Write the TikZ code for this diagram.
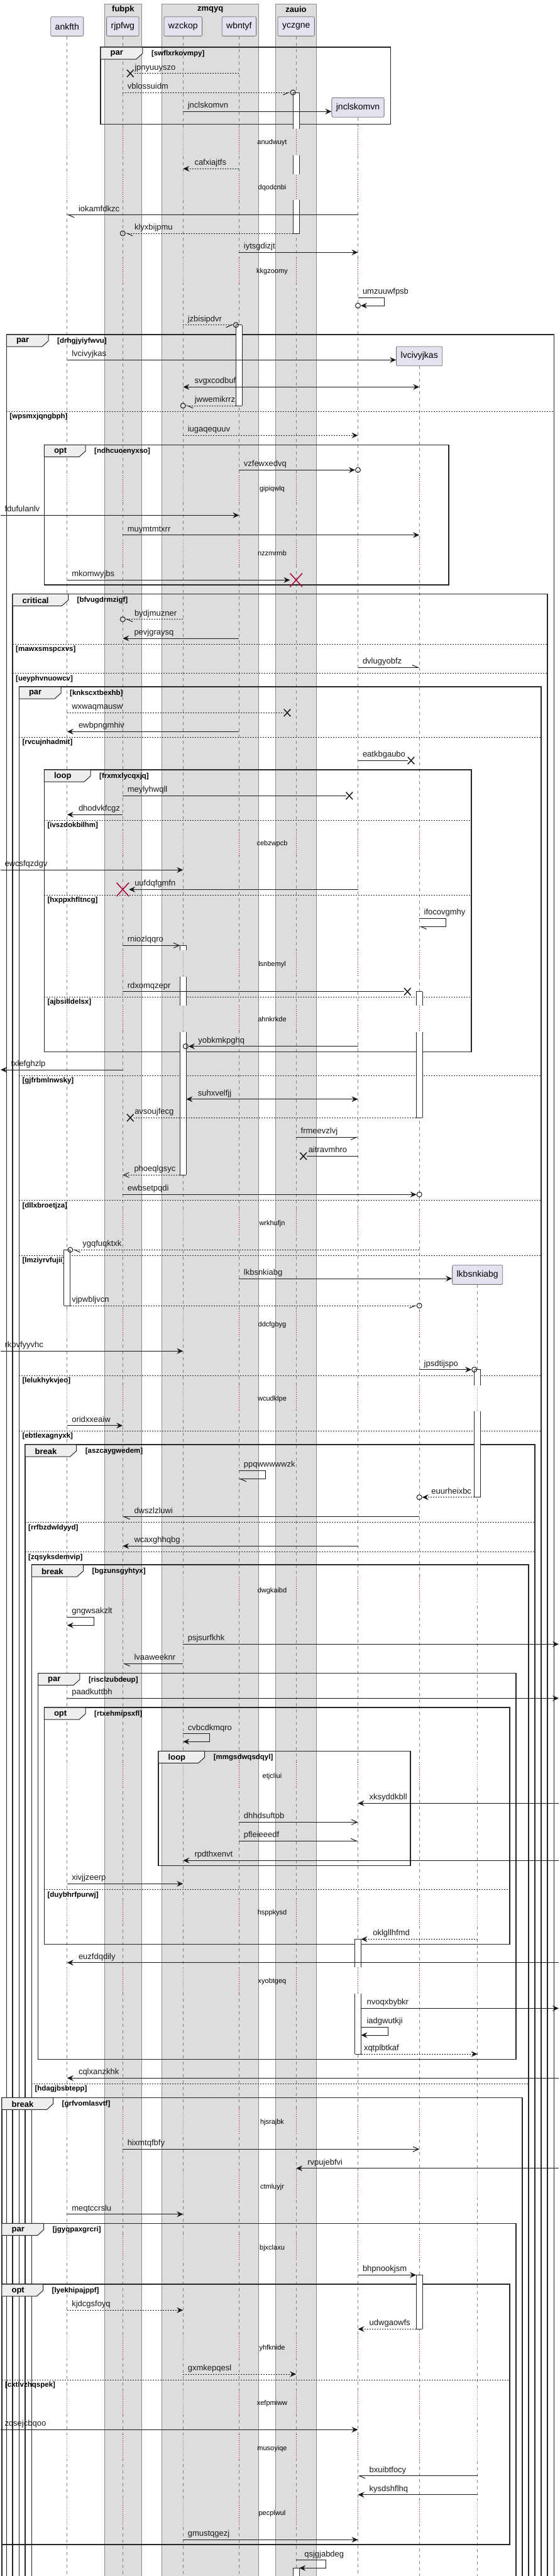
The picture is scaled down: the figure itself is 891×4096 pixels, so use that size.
\documentclass[tikz,border=0pt]{standalone}
\usepackage{fontspec}
\setmainfont{Liberation Sans}
\usetikzlibrary{arrows.meta,calc,shapes.misc}
\definecolor{partfill}{HTML}{E2E2F0}
\definecolor{boxfill}{HTML}{DDDDDD}
\definecolor{tabfill}{HTML}{EEEEEE}
\definecolor{crimson}{HTML}{A80036}
\newcommand\delays{226.7,298.3,431.7,777.7,880,1341.7,1533.3,1621,1945.7,2106.7,2224.3,2529.3,2824.3,3041.7,3150.7,3375,3477.3,3575,3733.3,3821.7,3893.3,3996.7}
\tikzset{
  grpbox/.style={draw=black!45, fill=boxfill, line width=0.8pt},
  boxtitle/.style={font=\fontsize{13}{15}\selectfont\bfseries, inner sep=0pt},
  part/.style={draw=black!55, fill=partfill, rounded corners=2pt, line width=0.8pt, minimum height=30.7pt, inner xsep=7pt, inner ysep=0pt, font=\fontsize{14}{16}\selectfont},
  life/.style={black!50, line width=0.8pt, dash pattern=on 5pt off 5pt},
  dly/.style={line width=0.9pt, dash pattern=on 1pt off 2pt},
  frm/.style={draw=black!85, line width=1.5pt},
  tabsh/.style={draw=black!85, fill=tabfill, line width=1pt},
  kindlbl/.style={font=\fontsize{13}{15}\selectfont\bfseries, inner sep=0pt},
  condlbl/.style={font=\fontsize{11.5}{13}\selectfont\bfseries, inner sep=0pt},
  elsesep/.style={black!85, line width=1pt, dash pattern=on 2pt off 2pt},
  actb/.style={black!85, line width=1pt},
  msg/.style={black!90, line width=1pt},
  dmsg/.style={msg, dash pattern=on 2pt off 2pt},
  fh/.style={-{Stealth[length=10pt,width=9pt,inset=3.5pt]}},
  bh/.style={{Stealth[length=10pt,width=9pt,inset=3.5pt]}-{Stealth[length=10pt,width=9pt,inset=3.5pt]}},
  oh/.style={-{Straight Barb[length=9pt,width=8pt]}},
  hl/.style={-{Straight Barb[harpoon,length=9pt,width=8pt]}},
  hr/.style={-{Straight Barb[harpoon,swap,length=9pt,width=8pt]}},
  ltr/.style={pos=0, anchor=base west, inner sep=0pt, xshift=#1, yshift=5.5pt, font=\fontsize{13}{15}\selectfont},
  ltr/.default=7pt,
  rtl/.style={pos=1, anchor=base west, inner sep=0pt, xshift=#1, yshift=5.5pt, font=\fontsize{13}{15}\selectfont},
  rtl/.default=17.7pt,
  circ/.style={circle, draw=black!90, line width=1pt, minimum size=8pt, inner sep=0pt},
  lost/.style={cross out, draw=black!90, line width=1.5pt, minimum width=9pt, minimum height=10pt, inner sep=0pt},
  kill/.style={cross out, draw=crimson, line width=1.5pt, minimum width=18pt, minimum height=20pt, inner sep=0pt},
  dlytext/.style={font=\fontsize{11}{13}\selectfont, inner sep=0pt},
}
\newcommand\lifeln[3]{%
  \begin{scope}
    \clip ($(#1.south)+(-8,0)$) rectangle ($(#1.south |- 0,4110)+(8,0)$);
    \draw[life] (#1.south) -- (#1.south |- 0,4110);
    \foreach \dy in \delays {
      \draw[#2, line width=4pt] (#1 |- 0,\dy-22) -- (#1 |- 0,\dy+18);
      \draw[dly, #3] (#1 |- 0,\dy-22) -- (#1 |- 0,\dy+18);
    }
  \end{scope}}
\newcommand\grp[7]{%
  \draw[frm] (#1,#2) rectangle (#3,#4);
  \draw[tabsh] (#1,#2) -- (#5,#2) -- (#5,#2+10) -- (#5-10,#2+19) -- (#1,#2+19) -- cycle;
  \node[kindlbl, anchor=west] (k-#7) at (#1+15.5,#2+10.5) {#6};
  \node[condlbl, anchor=west] (c-#7) at (#5+14,#2+10.5) {[#7]};}
\newcommand\els[4]{%
  \draw[elsesep] (#1,#3) -- (#2,#3);
  \node[condlbl, anchor=west] (c-#4) at (#1+5,#3+8.7) {[#4]};}
\newcommand\barseg[3]{%
  \fill[white] ($(#1 |- 0,#2)+(-5,0)$) rectangle ($(#1 |- 0,#3)+(5,0)$);
  \draw[actb] ($(#1 |- 0,#2)+(-5,0)$) -- ($(#1 |- 0,#3)+(-5,0)$);
  \draw[actb] ($(#1 |- 0,#2)+(5,0)$) -- ($(#1 |- 0,#3)+(5,0)$);}
\newcommand\barend[2]{\draw[actb] ($(#1 |- 0,#2)+(-5,0)$) -- ($(#1 |- 0,#2)+(5,0)$);}

\begin{document}
\begin{tikzpicture}[x=1pt,y=-1pt]
\useasboundingbox (0,0) rectangle (891,4096);
\clip (0,0) rectangle (891,4096);
\coordinate (ledge) at (1,0);
\coordinate (redge) at (889,0);

\draw[grpbox] (166.2,6) rectangle (225.6,4110);
\node[boxtitle] (t-fubpk) at (195.9,15) {fubpk};
\draw[grpbox] (257.6,6) rectangle (411.8,4110);
\node[boxtitle] (t-zmqyq) at (334.7,15) {zmqyq};
\draw[grpbox] (438.1,6) rectangle (503.8,4110);
\node[boxtitle] (t-zauio) at (471,15) {zauio};

\node[part] (ankfth) at (106.8,42) {ankfth};
\node[part] (rjpfwg) at (195.3,42) {rjpfwg};
\node[part] (wzckop) at (291.3,42) {wzckop};
\node[part] (wbntyf) at (380.4,42) {wbntyf};
\node[part] (yczgne) at (471.2,42) {yczgne};
\node[part] (jnclskomvn) at (569.5,170.8) {jnclskomvn};
\node[part] (lvcivyjkas) at (667.2,566.3) {lvcivyjkas};
\node[part] (lkbsnkiabg) at (759.7,2027) {lkbsnkiabg};

\lifeln{ankfth}{white}{black!50}
\lifeln{rjpfwg}{boxfill}{crimson}
\lifeln{wzckop}{boxfill}{black!50}
\lifeln{wbntyf}{boxfill}{crimson}
\lifeln{yczgne}{boxfill}{crimson}
\lifeln{jnclskomvn}{white}{crimson}
\lifeln{lvcivyjkas}{white}{crimson}
\lifeln{lkbsnkiabg}{white}{black!50}

\grp{160}{75}{621.5}{197.7}{226.8}{par}{swflxrkovmpy}
\grp{10.3}{532}{881.4}{4110}{77}{par}{drhgjyiyfwvu}
\els{10.3}{881.4}{654}{wpsmxjqngbph}
\grp{70.3}{707.3}{714}{930}{136}{opt}{ndhcuoenyxso}
\grp{20}{944.3}{871.1}{4110}{108.5}{critical}{bfvugdrmzigf}
\els{20}{871.1}{1024.3}{mawxsmspcxvs}
\els{20}{871.1}{1070.7}{ueyphvnuowcv}
\grp{30.3}{1092}{860.8}{4110}{97}{par}{knkscxtbexhb}
\els{30.3}{860.8}{1172.3}{rvcujnhadmit}
\grp{70.3}{1224}{750}{1672.3}{144}{loop}{frxmxlycqxjq}
\els{70.3}{750}{1304.3}{ivszdokbilhm}
\els{70.3}{750}{1423.3}{hxppxhfltncg}
\els{70.3}{750}{1585.3}{ajbsilldelsx}
\els{30.3}{860.8}{1710}{gjfrbmlnwsky}
\els{30.3}{860.8}{1908.7}{dllxbroetjza}
\els{30.3}{860.8}{1996}{lmziyrvfujii}
\els{30.3}{860.8}{2187}{lelukhykvjeo}
\els{30.3}{860.8}{2275.3}{ebtlexagnyxk}
\grp{40}{2297}{851.1}{4110}{121.7}{break}{aszcaygwedem}
\els{40}{851.1}{2420.7}{rrfbzdwldyyd}
\els{40}{851.1}{2467.3}{zqsyksdemvip}
\grp{50.3}{2488}{840.8}{4110}{132.5}{break}{bgzunsgyhtyx}
\grp{60.5}{2660.7}{820.8}{3274.3}{126.8}{par}{risclzubdeup}
\grp{70.3}{2715}{811.1}{3091.7}{136}{opt}{rtxehmipsxfl}
\grp{252}{2784.3}{653}{2966.7}{325.6}{loop}{mmgsdwqsdqyl}
\els{70.3}{811.1}{3004.3}{duybhrfpurwj}
\els{50.3}{840.8}{3313.3}{hdagjbsbtepp}
\grp{2.9}{3335.3}{831.1}{4110}{84.5}{break}{grfvomlasvtf}
\grp{2.9}{3535.3}{820.8}{4110}{69.7}{par}{jgyqpaxgrcri}
\grp{2.9}{3632}{811.1}{4045.7}{68.5}{opt}{lyekhipajppf}
\els{2.9}{811.1}{3784}{cxtlvzhqspek}

\barseg{yczgne}{147}{204.7} \barend{yczgne}{147}
\barseg{yczgne}{246.7}{276.7}
\barseg{yczgne}{318.3}{371.7} \barend{yczgne}{371.7}
\barseg{wbntyf}{516.7}{645} \barend{wbntyf}{516.7} \barend{wbntyf}{645}
\barseg{wzckop}{1503.3}{1511.3} \barend{wzckop}{1503.3}
\barseg{wzckop}{1553.3}{1599.3}
\barseg{wzckop}{1641}{1868.3} \barend{wzckop}{1868.3}
\barseg{lvcivyjkas}{1576.7}{1599.3} \barend{lvcivyjkas}{1576.7}
\barseg{lvcivyjkas}{1641}{1777.3} \barend{lvcivyjkas}{1777.3}
\barseg{ankfth}{1987.3}{2076} \barend{ankfth}{1987.3} \barend{ankfth}{2076}
\barseg{lkbsnkiabg}{2177.7}{2202.7} \barend{lkbsnkiabg}{2177.7}
\barseg{lkbsnkiabg}{2244}{2380.7} \barend{lkbsnkiabg}{2380.7}
\barseg{jnclskomvn}{3083.3}{3128.3} \barend{jnclskomvn}{3083.3}
\barseg{jnclskomvn}{3170}{3266} \barend{jnclskomvn}{3266}
\barseg{lvcivyjkas}{3617.3}{3703.3} \barend{lvcivyjkas}{3617.3} \barend{lvcivyjkas}{3703.3}
\barseg{yczgne}{4083.3}{4110} \barend{yczgne}{4083.3}

\node[lost] (x1) at (207.3,116.7) {};
\draw[dmsg] (wbntyf |- 0,116.7) -- (x1) node[rtl=1.2pt] {jpnyuuyszo};
\node[circ] (o1) at ($(yczgne |- 0,147)+(-5,0)$) {};
\draw[dmsg, hr] (rjpfwg |- 0,147) -- (o1) node[ltr] {vblossuidm};
\draw[msg, fh] (wzckop |- 0,177.3) -- (jnclskomvn.west |- 0,177.3) node[ltr] {jnclskomvn};
\draw[dmsg, fh] (wbntyf |- 0,268.3) -- (wzckop |- 0,268.3) node[rtl] {cafxiajtfs};
\draw[msg, hl] (jnclskomvn |- 0,341.7) -- (ankfth |- 0,341.7) node[rtl] {iokamfdkzc};
\node[circ] (o2) at (rjpfwg |- 0,371) {};
\draw[dmsg, hl] ($(yczgne |- 0,371)+(-5,0)$) -- (o2) node[rtl=13.7pt] {klyxbijpmu};
\draw[msg, fh] (wbntyf |- 0,401.3) -- (jnclskomvn |- 0,401.3) node[ltr] {iytsgdizjt};
\node[circ] (o3) at (jnclskomvn |- 0,486) {};
\draw[msg, fh] (jnclskomvn |- 0,473.3) -- ++(42.3,0) node[ltr] {umzuuwfpsb} -- ++(0,12.7) -- (o3);
\node[circ] (o4) at ($(wbntyf |- 0,516.7)+(-5,0)$) {};
\draw[dmsg, hr] (wzckop |- 0,516.7) -- (o4) node[ltr] {jzbisipdvr};
\draw[msg, fh] (ankfth |- 0,572.3) -- (lvcivyjkas.west |- 0,572.3) node[ltr] {lvcivyjkas};
\draw[msg, bh] (wzckop |- 0,615.3) -- (lvcivyjkas |- 0,615.3) node[ltr=17.7pt] {svgxcodbuf};
\node[circ] (o5) at (wzckop |- 0,645) {};
\draw[dmsg, hl] ($(wbntyf |- 0,645)+(-5,0)$) -- (o5) node[rtl=13.5pt] {jwwemikrrz};
\draw[dmsg, fh] (wzckop |- 0,692.3) -- (jnclskomvn |- 0,692.3) node[ltr] {iugaqequuv};
\node[circ] (o6) at (jnclskomvn |- 0,747.3) {};
\draw[msg, fh] (wbntyf |- 0,747.3) -- (o6) node[ltr] {vzfewxedvq};
\draw[msg, fh] (ledge |- 0,819.3) -- (wbntyf |- 0,819.3) node[ltr=6pt] {fdufulanlv};
\draw[msg, fh] (rjpfwg |- 0,850.7) -- (lvcivyjkas |- 0,850.7) node[ltr] {muymtmtxrr};
\node[kill] (k1) at (yczgne |- 0,922.3) {};
\draw[msg, fh] (ankfth |- 0,922.3) -- (k1) node[ltr] {mkomwyjbs};
\node[circ] (o7) at (rjpfwg |- 0,984.7) {};
\draw[dmsg, hl] (wzckop |- 0,984.7) -- (o7) node[rtl=13.7pt] {bydjmuzner};
\draw[msg, fh] (wbntyf |- 0,1015) -- (rjpfwg |- 0,1015) node[rtl] {pevjgraysq};
\draw[msg, hl] (jnclskomvn |- 0,1061.3) -- (lvcivyjkas |- 0,1061.3) node[ltr] {dvlugyobfz};
\node[lost] (x2) at (457,1133.3) {};
\draw[dmsg] (ankfth |- 0,1133.3) -- (x2) node[ltr] {wxwaqmausw};
\draw[msg, fh] (wbntyf |- 0,1163.3) -- (ankfth |- 0,1163.3) node[rtl] {ewbpngmhiv};
\node[lost] (x3) at (654,1209.3) {};
\draw[msg] (jnclskomvn |- 0,1209.3) -- (x3) node[ltr] {eatkbgaubo};
\node[lost] (x4) at (555.8,1265.3) {};
\draw[msg] (rjpfwg |- 0,1265.3) -- (x4) node[ltr] {meylyhwqll};
\draw[msg, fh] (rjpfwg |- 0,1295.3) -- (ankfth |- 0,1295.3) node[rtl] {dhodvkfcgz};
\draw[msg, fh] (ledge |- 0,1383.3) -- (wzckop |- 0,1383.3) node[ltr=6pt] {ewcsfqzdgv};
\node[kill] (k2) at (rjpfwg |- 0,1414.3) {};
\draw[msg, fh] (jnclskomvn |- 0,1414.3) -- (k2) node[rtl=8.7pt] {uufdqfgmfn};
\draw[msg, hl] (lvcivyjkas |- 0,1460) -- ++(41.8,0) node[ltr] {ifocovgmhy} -- ++(0,13.3) -- (lvcivyjkas |- 0,1473.3);
\draw[msg, oh] (rjpfwg |- 0,1503.3) -- ($(wzckop |- 0,1503.3)+(-5,0)$) node[ltr] {rniozlqqro};
\node[lost] (x5) at (648.3,1576.7) {};
\draw[msg] (rjpfwg |- 0,1576.7) -- (x5) node[ltr] {rdxomqzepr};
\node[circ] (o8) at ($(wzckop |- 0,1663.7)+(4,0)$) {};
\draw[msg, fh] (jnclskomvn |- 0,1663.7) -- (o8) node[rtl=15pt] {yobkmkpghq};
\draw[msg, fh] (rjpfwg |- 0,1701) -- (ledge |- 0,1701) node[rtl=16pt] {txlefghzlp};
\draw[msg, bh] ($(wzckop |- 0,1747.7)+(5,0)$) -- (jnclskomvn |- 0,1747.7) node[ltr=18pt] {suhxvelfjj};
\node[lost] (x6) at (207.3,1777.3) {};
\draw[dmsg] ($(lvcivyjkas |- 0,1777.3)+(-5,0)$) -- (x6) node[rtl=1.2pt] {avsoujfecg};
\draw[msg, hr] (yczgne |- 0,1808.3) -- (jnclskomvn |- 0,1808.3) node[ltr] {frmeevzlvj};
\node[lost] (x7) at (482.7,1838.3) {};
\draw[msg] (jnclskomvn |- 0,1838.3) -- (x7) node[rtl=2.3pt] {aitravmhro};
\draw[dmsg, oh] ($(wzckop |- 0,1868.3)+(-5,0)$) -- (rjpfwg |- 0,1868.3) node[rtl] {phoeqlgsyc};
\node[circ] (o9) at (lvcivyjkas |- 0,1899.3) {};
\draw[msg, fh] (rjpfwg |- 0,1899.3) -- (o9) node[ltr] {ewbsetpqdi};
\node[circ] (o10) at ($(ankfth |- 0,1987.3)+(5,0)$) {};
\draw[dmsg, hl] (lvcivyjkas |- 0,1987.3) -- (o10) node[rtl=14.5pt] {ygqfuqktxk};
\draw[msg, fh] (wbntyf |- 0,2033) -- (lkbsnkiabg.west |- 0,2033) node[ltr] {lkbsnkiabg};
\node[circ] (o11) at (lvcivyjkas |- 0,2076) {};
\draw[dmsg, hr] ($(ankfth |- 0,2076)+(5,0)$) -- (o11) node[ltr=2pt] {vjpwbljvcn};
\draw[msg, fh] (ledge |- 0,2148.3) -- (wzckop |- 0,2148.3) node[ltr=6pt] {rkpvfyyvhc};
\node[circ] (o12) at ($(lkbsnkiabg |- 0,2177.7)+(-5,0)$) {};
\draw[msg, fh] (lvcivyjkas |- 0,2177.7) -- (o12) node[ltr] {jpsdtijspo};
\draw[msg, fh] (ankfth |- 0,2266.7) -- (rjpfwg |- 0,2266.7) node[ltr] {oridxxeaiw};
\draw[msg, hl] (wbntyf |- 0,2338.3) -- ++(42.3,0) node[ltr] {ppqwwwwwzk} -- ++(0,13.4) -- (wbntyf |- 0,2351.7);
\node[circ] (o13) at (lvcivyjkas |- 0,2380.7) {};
\draw[dmsg, fh] ($(lkbsnkiabg |- 0,2380.7)+(-5,0)$) -- (o13) node[rtl=14.2pt] {euurheixbc};
\draw[msg, hl] (lvcivyjkas |- 0,2411.7) -- (rjpfwg |- 0,2411.7) node[rtl] {dwszlzluwi};
\draw[msg, fh] (jnclskomvn |- 0,2458.3) -- (rjpfwg |- 0,2458.3) node[rtl] {wcaxghhqbg};
\draw[msg, fh] (ankfth |- 0,2571.3) -- ++(42.2,0) node[ltr] {gngwsakzlt} -- ++(0,13) -- (ankfth |- 0,2584.3);
\draw[msg, fh] (wzckop |- 0,2614.3) -- (redge |- 0,2614.3) node[ltr] {psjsurfkhk};
\draw[msg, hl] (wzckop |- 0,2645.3) -- (rjpfwg |- 0,2645.3) node[rtl] {lvaaweeknr};
\draw[msg, fh] (ankfth |- 0,2700.3) -- (redge |- 0,2700.3) node[ltr] {paadkuttbh};
\draw[msg, fh] (wzckop |- 0,2756.7) -- ++(41.7,0) node[ltr] {cvbcdkmqro} -- ++(0,12.6) -- (wzckop |- 0,2769.3);
\draw[msg, fh] (redge |- 0,2867.3) -- (jnclskomvn |- 0,2867.3) node[rtl] {xksyddkbll};
\draw[msg, oh] (wbntyf |- 0,2897.3) -- (jnclskomvn |- 0,2897.3) node[ltr] {dhhdsuftob};
\draw[msg, hl] (wbntyf |- 0,2927.3) -- (jnclskomvn |- 0,2927.3) node[ltr] {pfleieeedf};
\draw[msg, fh] (redge |- 0,2958.3) -- (wzckop |- 0,2958.3) node[rtl] {rpdthxenvt};
\draw[msg, fh] (ankfth |- 0,2995.3) -- (wzckop |- 0,2995.3) node[ltr] {xivjjzeerp};
\draw[dmsg, fh] (lkbsnkiabg |- 0,3083.3) -- ($(jnclskomvn |- 0,3083.3)+(5,0)$) node[rtl=18.3pt] {oklgllhfmd};
\draw[msg, fh] (redge |- 0,3120.7) -- (ankfth |- 0,3120.7) node[rtl] {euzfdqdily};
\draw[msg, fh] ($(jnclskomvn |- 0,3193.3)+(5,0)$) -- (redge |- 0,3193.3) node[ltr=8.6pt] {nvoqxbybkr};
\draw[msg, fh] ($(jnclskomvn |- 0,3223.3)+(5,0)$) -- ++(42.9,0) node[ltr=8.6pt] {iadgwutkji} -- ++(0,12.7) -- ($(jnclskomvn |- 0,3236)+(5,0)$);
\draw[dmsg, fh] ($(jnclskomvn |- 0,3266)+(5,0)$) -- (lkbsnkiabg |- 0,3266) node[ltr=4pt] {xqtplbtkaf};
\draw[msg, fh] (redge |- 0,3304.3) -- (ankfth |- 0,3304.3) node[rtl] {cqlxanzkhk};
\draw[msg, oh] (rjpfwg |- 0,3417.3) -- (lvcivyjkas |- 0,3417.3) node[ltr] {hixmtqfbfy};
\draw[msg, fh] (redge |- 0,3447.7) -- (yczgne |- 0,3447.7) node[rtl] {rvpujebfvi};
\draw[msg, fh] (ankfth |- 0,3520.7) -- (wzckop |- 0,3520.7) node[ltr] {meqtccrslu};
\draw[msg, fh] (jnclskomvn |- 0,3617.3) -- ($(lvcivyjkas |- 0,3617.3)+(-5,0)$) node[ltr] {bhpnookjsm};
\draw[dmsg, fh] (ankfth |- 0,3673.3) -- (wzckop |- 0,3673.3) node[ltr] {kjdcgsfoyq};
\draw[dmsg, fh] ($(lvcivyjkas |- 0,3703.3)+(-5,0)$) -- (jnclskomvn |- 0,3703.3) node[rtl] {udwgaowfs};
\draw[dmsg, fh] (wzckop |- 0,3775) -- (yczgne |- 0,3775) node[ltr] {gxmkepqesl};
\draw[msg, fh] (ledge |- 0,3863.3) -- (jnclskomvn |- 0,3863.3) node[ltr=6pt] {zqsejcbqoo};
\draw[msg, hl] (lkbsnkiabg |- 0,3936.7) -- (jnclskomvn |- 0,3936.7) node[rtl] {bxuibtfocy};
\draw[msg, fh] (lkbsnkiabg |- 0,3966.7) -- (jnclskomvn |- 0,3966.7) node[rtl] {kysdshflhq};
\draw[msg, fh] (wzckop |- 0,4038.3) -- (jnclskomvn |- 0,4038.3) node[ltr] {gmustqgezj};
\draw[msg, fh] (yczgne |- 0,4070.7) -- ++(46.8,0) node[ltr=12.6pt] {qsjgjabdeg} -- ++(0,12.6) -- ($(yczgne |- 0,4083.3)+(5,0)$);

\foreach \dy/\dt in {226.7/anudwuyt,298.3/dqodcnbi,431.7/kkgzoomy,777.7/gipiqwlq,880/nzzmrrnb,1341.7/cebzwpcb,1533.3/lsnbemyl,1621/ahnkrkde,1945.7/wrkhufjn,2106.7/ddcfgbyg,2224.3/wcudklpe,2529.3/dwgkaibd,2824.3/etjcliui,3041.7/hsppkysd,3150.7/xyobtgeq,3375/hjsrajbk,3477.3/ctmluyjr,3575/bjxclaxu,3733.3/yhfknide,3821.7/xefpmiww,3893.3/musoyiqe,3996.7/pecplwul}
  \node[dlytext] (d-\dt) at (433,\dy) {\dt};
\end{tikzpicture}
\end{document}
